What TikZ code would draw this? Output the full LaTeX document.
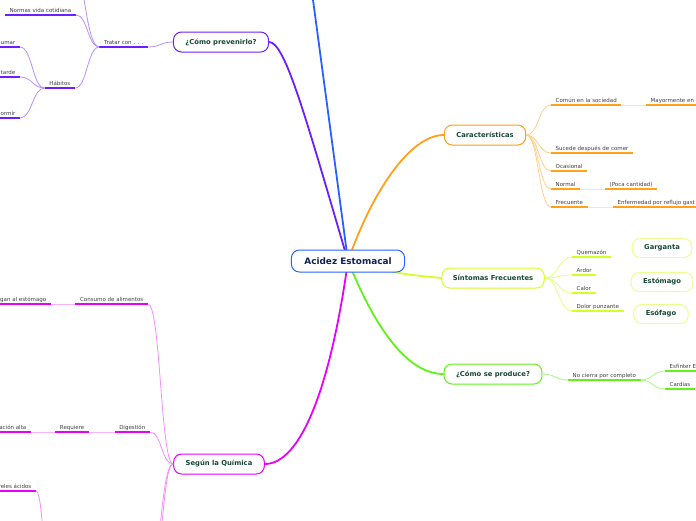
\documentclass[tikz,border=0pt]{standalone}
\usepackage{fontspec}
\setmainfont{DejaVu Sans}
\usetikzlibrary{calc, backgrounds}
\definecolor{Azul}{rgb}{0.16, 0.38, 1.0}
\definecolor{Marino}{rgb}{0.08, 0.12, 0.32}
\definecolor{Morado}{rgb}{0.42, 0.12, 1.0}
\definecolor{Naranja}{rgb}{1.0, 0.63, 0.1}
\definecolor{Lima}{rgb}{0.83, 1.0, 0.15}
\definecolor{Verde}{rgb}{0.38, 0.95, 0.1}
\definecolor{Magenta}{rgb}{0.91, 0.0, 1.0}
\definecolor{TextoTema}{rgb}{0.09, 0.28, 0.22}
\definecolor{TextoHoja}{rgb}{0.25, 0.25, 0.25}

\tikzset{
  raiz/.style={draw=Azul, line width=1pt, rounded corners=8pt, fill=white, text=Marino,
    font=\fontsize{8.9}{10}\selectfont\bfseries, minimum height=22pt, inner xsep=13pt},
  tema/.style={draw=#1, line width=1pt, rounded corners=8pt, fill=white, text=TextoTema,
    font=\fontsize{6.8}{8}\selectfont\bfseries, minimum height=20pt, inner xsep=12pt},
  hoja/.style={anchor=south west, text=TextoHoja, font=\fontsize{5.5}{6}\selectfont,
    text height=4.2pt, text depth=1.2pt, inner xsep=4.5pt, inner ysep=1.5pt,
    append after command={(\tikzlastnode.south west) edge[draw=#1, line width=1.6pt] (\tikzlastnode.south east)}},
  enlace/.style={draw=#1, line width=0.8pt},
  tronco/.style={draw=#1, line width=1.8pt},
  rama/.style={to path={let \p1=(\tikztostart), \p2=(\tikztotarget) in
    .. controls ({(\x1+\x2)/2},\y1) and ({(\x1+\x2)/2},\y2) .. (\tikztotarget)}},
}

\begin{document}
\begin{tikzpicture}[x=1pt, y=-1pt]
\useasboundingbox (0,0) rectangle (696,520);
\clip (0,0) rectangle (696,520);

% temas principales
\node[raiz] (raiz) at (348,261) {Acidez Estomacal};
\node[tema=Morado] (prev) at (221,42) {¿Cómo prevenirlo?};
\node[tema=Naranja] (car) at (485,135) {Características};
\node[tema=Lima, inner xsep=11pt] (sin) at (493,278) {Síntomas Frecuentes};
\node[tema=Verde] (prod) at (493,374) {¿Cómo se produce?};
\node[tema=Magenta] (quim) at (219,464) {Según la Química};
\coordinate (azulFin) at (309,-30);

% ramas desde la raiz
\begin{scope}[on background layer]
  \clip (0,0) rectangle (696,520);
  \draw[tronco=Azul] (raiz.center) -- (azulFin);
  \draw[tronco=Morado] (raiz.center) .. controls (305,115) and (285,42) .. (prev.east);
  \draw[tronco=Naranja] (raiz.center) .. controls (372,192) and (410,135) .. (car.west);
  \draw[tronco=Lima] (raiz.center) .. controls (400,274) .. (sin.west);
  \draw[tronco=Verde] (raiz.center) .. controls (378,335) and (410,374) .. (prod.west);
  \draw[tronco=Magenta] (raiz.center) .. controls (330,390) and (300,464) .. (quim.east);
\end{scope}

% como prevenirlo
\node[hoja=Morado, anchor=south east] (tratar) at (148,47) {Tratar con . . .};
\node[hoja=Morado, anchor=south east] (normas) at (76,15) {Normas vida cotidiana};
\node[hoja=Morado, anchor=south east] (habitos) at (75,88) {Hábitos};
\coordinate (tratarArriba) at (70,-40);
\draw[enlace=Morado!50] (prev.west) to[rama] (tratar.south east);
\foreach \h in {normas.south east, habitos.south east, tratarArriba}
  \draw[enlace=Morado!50] (tratar.south west) to[rama] (\h);
\foreach \h/\y/\t in {fumar/47/umar, tarde/77/tarde, dormir/118/ormir}{
  \node[hoja=Morado, anchor=south east] (\h) at (20,\y) {\t};
  \draw[enlace=Morado!50] (habitos.south west) to[rama] (\h.south east);
}

% caracteristicas
\foreach \h/\y/\t in {comun/105/{Común en la sociedad}, sucede/153/{Sucede después de comer},
    ocasional/171/Ocasional, normal/189/Normal, frecuente/207/Frecuente}{
  \node[hoja=Naranja] (\h) at (551,\y) {\t};
  \draw[enlace=Naranja!50] (car.east) to[rama] (\h.south west);
}
\node[hoja=Naranja] (mayor) at (646,105) {Mayormente en};
\node[hoja=Naranja] (poca) at (605,189) {(Poca cantidad)};
\node[hoja=Naranja] (reflujo) at (613,207) {Enfermedad por reflujo gast};
\draw[enlace=Naranja!30] (comun.south east) -- (mayor.south west);
\draw[enlace=Naranja!30] (normal.south east) -- (poca.south west);
\draw[enlace=Naranja!30] (frecuente.south east) -- (reflujo.south west);

% sintomas
\foreach \h/\y/\t in {quemazon/257/Quemazón, ardor/275/Ardor, calor/293/Calor,
    punzante/311/{Dolor punzante}}{
  \node[hoja=Lima] (\h) at (572,\y) {\t};
  \draw[enlace=Lima!60] (sin.east) to[rama] (\h.south west);
}
\node[tema=Lima!50, minimum height=19pt] (garganta) at (662,248) {Garganta};
\node[tema=Lima!50, minimum height=19pt] (estomago) at (662,282) {Estómago};
\node[tema=Lima!50, minimum height=19pt] (esofago) at (661,314) {Esófago};

% como se produce
\node[hoja=Verde] (cierra) at (568,380) {No cierra por completo};
\node[hoja=Verde] (esfinter) at (665,371) {Esfínter E};
\node[hoja=Verde] (cardias) at (665,389) {Cardias};
\draw[enlace=Verde!55] (prod.east) to[rama] (cierra.south west);
\draw[enlace=Verde!55] (cierra.south east) to[rama] (esfinter.south west);
\draw[enlace=Verde!55] (cierra.south east) to[rama] (cardias.south west);

% segun la quimica
\node[hoja=Magenta, anchor=south east] (consumo) at (148,304) {Consumo de alimentos};
\node[hoja=Magenta, anchor=south east] (llegan) at (51,304) {gan al estómago};
\node[hoja=Magenta, anchor=south east] (digestion) at (150,432) {Digestión};
\node[hoja=Magenta, anchor=south east] (requiere) at (89,432) {Requiere};
\node[hoja=Magenta, anchor=south east] (alta) at (31,432) {ación alta};
\node[hoja=Magenta, anchor=south east] (acidos) at (36,491) {reles ácidos};
\coordinate (quimAbajoA) at (146,600);
\coordinate (quimAbajoB) at (152,570);
\coordinate (acidosAbajo) at (52,600);
\foreach \h in {consumo.south east, digestion.south east, quimAbajoA, quimAbajoB}
  \draw[enlace=Magenta!45] (quim.west) to[rama] (\h);
\draw[enlace=Magenta!30] (consumo.south west) -- (llegan.south east);
\draw[enlace=Magenta!30] (digestion.south west) -- (requiere.south east);
\draw[enlace=Magenta!30] (requiere.south west) -- (alta.south east);
\draw[enlace=Magenta!45] (acidos.south east) to[rama] (acidosAbajo);

\end{tikzpicture}
\end{document}
